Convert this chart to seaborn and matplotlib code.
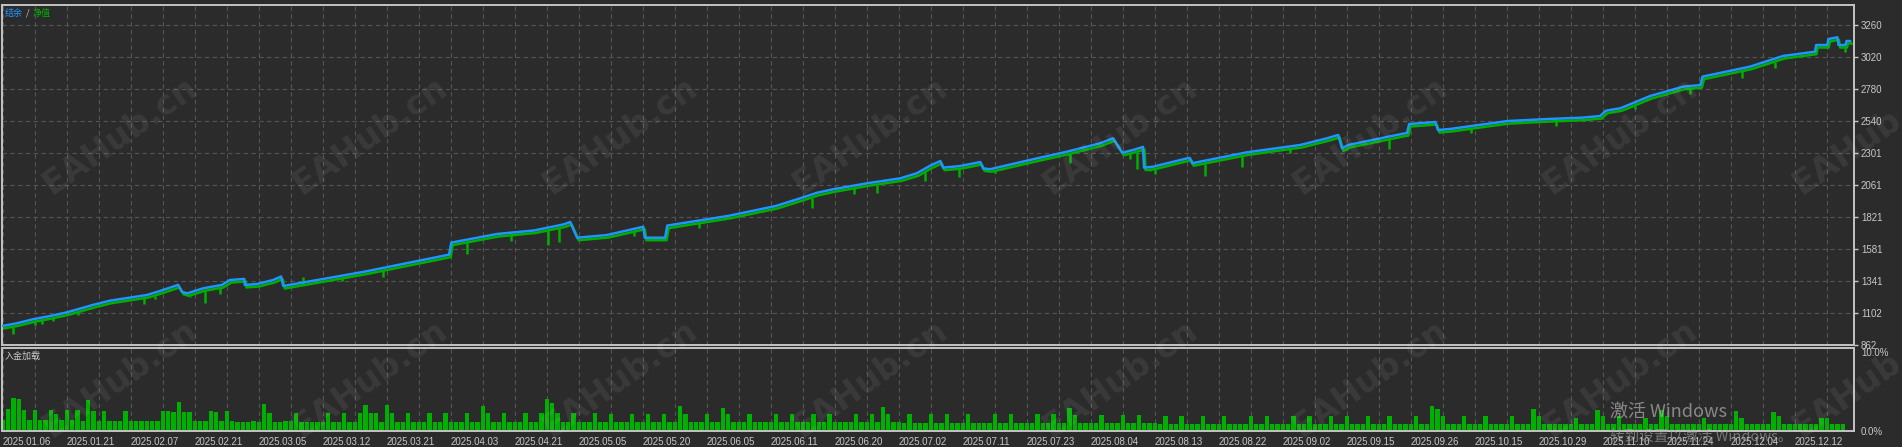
import numpy as np
import matplotlib
matplotlib.use("Agg")
import matplotlib.pyplot as plt
import matplotlib.transforms as mtransforms
import seaborn as sns

# balance curve: deal number / balance
bal_x = [0, 2.7, 5.7, 8.9, 12.1, 16.9, 20.1, 27.1, 29.5, 32.9, 33.6, 34.6, 37.6, 41.1,
         42.6, 45.3, 45.4, 47.7, 50.7, 52.2, 52.6, 67.8, 83.7, 84.1, 92.7, 99.6, 105.2,
         106.4, 107.7, 113.3, 120.1, 120.4, 124.2, 124.6, 136.0, 145.0, 149.5, 152.7,
         155.7, 162.1, 168.3, 171.4, 173.9, 175.8, 176.3, 179.5, 183.3, 183.8, 185.1,
         193.2, 199.6, 205.8, 208.2, 208.9, 209.9, 211.9, 213.8, 214.0, 215.7, 222.1,
         222.6, 223.0, 224.5, 233.3, 243.3, 248.3, 250.4, 251.1, 252.3, 262.0, 263.3,
         263.7, 268.6, 269.1, 271.4, 282.1, 290.0, 296.3, 299.5, 300.6, 303.3, 308.9,
         315.1, 318.3, 318.7, 327.6, 333.8, 339.8, 340.0, 342.1, 342.3, 344.0, 344.2,
         345.5, 345.7, 346.4]
bal_y = [1005, 1025, 1055, 1079, 1107, 1162, 1194, 1237, 1267, 1312, 1261, 1249, 1287, 1312,
         1349, 1357, 1312, 1319, 1349, 1375, 1304, 1411, 1539, 1629, 1694, 1720, 1766,
         1784, 1666, 1686, 1748, 1666, 1666, 1757, 1829, 1904, 1961, 2003,
         2029, 2074, 2111, 2149, 2206, 2241, 2191, 2203, 2233, 2186, 2179,
         2254, 2311, 2374, 2411, 2366, 2303, 2323, 2346, 2191, 2198, 2261,
         2263, 2224, 2236, 2306, 2361, 2411, 2436, 2336, 2361, 2441, 2451,
         2518, 2533, 2473, 2481, 2540, 2556, 2566, 2578, 2618, 2636, 2728,
         2798, 2810, 2873, 2948, 3028, 3060, 3110, 3110, 3155, 3168, 3110,
         3110, 3140, 3140]

# equity drawdown spikes: deal number / lowest equity
dip_x = [1.7, 5.7, 7.0, 9.2, 13.9, 26.3, 28.2, 34.8, 37.6, 40.4, 56.0, 63.3, 71.1, 86.7,
         95.0, 101.9, 104.1, 118.0, 130.2, 151.4, 159.4, 163.6, 172.6, 179.0, 185.7,
         199.8, 211.0, 212.3, 214.8, 215.7, 225.1, 232.0, 241.0, 259.6, 275.0, 291.0,
         305.7, 316.0, 325.8, 332.0, 345.1]
dip_y = [962, 1027, 1037, 1057, 1102, 1186, 1224, 1237, 1194, 1261, 1390, 1357, 1394, 1563,
         1660, 1629, 1656, 1700, 1757, 1904, 2011, 2018, 2111, 2140, 2168,
         2248, 2273, 2198, 2181, 2161, 2149, 2218, 2320, 2348, 2470, 2520,
         2648, 2762, 2885, 2960, 3074]

# deposit load per deal, %
load = [1.3, 2.7, 4.0, 3.9, 2.5, 1.3, 2.5, 1.3, 1.3, 2.5,
        2.0, 1.3, 2.5, 1.3, 2.5, 1.2, 3.7, 2.4, 1.2, 2.4,
        1.2, 1.2, 1.2, 2.4, 1.2, 1.2, 1.2, 1.2, 1.2, 1.2,
        2.4, 2.4, 2.3, 3.5, 2.3, 2.3, 1.2, 1.2, 1.2, 2.4,
        2.3, 1.2, 2.4, 1.2, 1.1, 1.1, 1.1, 1.2, 1.1, 3.3,
        2.2, 1.1, 1.1, 1.2, 1.2, 2.2, 1.1, 1.1, 1.1, 1.1,
        1.1, 2.2, 1.1, 1.1, 2.2, 1.1, 1.1, 2.2, 3.1, 2.2,
        2.2, 1.1, 3.1,
        2.2, 1.1, 1.1, 2.2, 1.1, 1.1, 1.1, 2.2, 1.1, 1.1, 2.2, 1.1,
        1.1, 1.1, 2.2, 1.1, 1.1, 3.0, 2.2, 1.1, 1.1, 2.2, 1.1, 1.1,
        1.1, 2.2, 1.1, 1.1, 2.2, 3.9, 3.4, 2.2, 1.1, 1.1, 2.2, 1.1,
        1.1, 1.1, 2.2, 1.1, 1.1, 2.1, 1.1, 1.1, 1.1, 2.1, 1.1, 1.1,
        2.1, 1.1, 1.1, 2.1, 1.1, 1.1, 3.0, 2.1, 1.1, 1.1, 1.1, 2.1,
        1.1, 1.1, 2.8, 2.1, 1.1, 1.1, 1.1, 2.1, 1.1, 1.1, 1.1, 1.1,
        2.1, 1.1, 1.1, 2.1, 1.1, 1.1, 1.1, 2.1, 1.1, 1.1, 2.1, 1.1,
        1.1, 1.1, 1.1, 2.1, 1.1, 1.1, 2.1, 1.1, 2.9, 2.0, 1.1, 1.1,
        1.0, 2.0, 1.0, 1.0, 1.0, 2.0, 1.0, 1.0, 2.0, 1.0, 1.0, 1.0,
        2.0, 1.0, 1.0, 1.0, 1.0, 2.0, 1.0, 1.0, 2.0, 1.0, 1.0, 1.0,
        1.0, 2.0, 1.0, 1.0, 2.0, 1.0, 1.0, 2.8, 1.9, 1.0, 1.0, 1.0,
        1.0, 1.9, 1.0, 1.0, 1.0, 1.9, 1.0, 1.0, 1.9, 1.0, 1.0, 1.0,
        0.9, 1.8, 0.9, 0.9, 1.8, 0.9, 0.9, 0.9, 1.8, 0.9, 0.9, 0.9,
        1.8, 0.9, 0.9, 0.9, 0.9, 1.8, 0.9, 0.9, 1.8, 0.9, 0.9, 0.9,
        0.9, 1.8, 0.9, 0.9, 1.8, 0.9, 0.9, 0.9, 1.8, 0.9, 0.9, 1.8,
        0.9, 0.9, 0.9, 1.8, 0.9, 0.9, 0.9, 1.8, 0.9, 0.9, 0.9, 0.9,
        1.8, 0.9, 0.9, 3.0, 2.6, 1.8, 0.9, 0.9, 0.9, 1.8, 0.9, 0.9,
        0.9, 1.8, 0.9, 0.9, 0.9, 0.9, 1.8, 0.9, 0.9, 0.9, 2.6, 1.8,
        0.9, 0.9, 0.9, 0.9, 0.9, 0.9, 1.6, 0.9, 0.9, 0.9, 2.5, 1.8,
        0.9, 0.9, 1.8, 0.9, 0.9, 0.9, 0.9, 1.6, 0.9, 0.9, 2.5, 1.8,
        0.9, 0.9, 0.9, 0.9, 0.9, 0.9, 1.6, 0.9, 0.9, 0.9, 0.9, 0.9,
        2.4, 1.6, 0.9, 0.9, 0.9, 0.9, 0.9, 2.3, 1.8, 0.9, 0.9, 0.9,
        0.9, 0.9, 0.9, 0.9, 1.6, 1.6, 0.9, 0.9, 0.9]

date_labels = ["2025.01.06", "2025.01.21", "2025.02.07", "2025.02.21", "2025.03.05",
               "2025.03.12", "2025.03.21", "2025.04.03", "2025.04.21", "2025.05.05",
               "2025.05.20", "2025.06.05", "2025.06.11", "2025.06.20", "2025.07.02",
               "2025.07.11", "2025.07.23", "2025.08.04", "2025.08.13", "2025.08.22",
               "2025.09.02", "2025.09.15", "2025.09.26", "2025.10.15", "2025.10.29",
               "2025.11.10", "2025.11.24", "2025.12.04", "2025.12.12"]
y_ticks = [862, 1102, 1341, 1581, 1821, 2061, 2301, 2540, 2780, 3020, 3260]

BG = "#2b2b2b"
FRAME = "#c4c4c4"
GRID = "#545454"
TXT = "#c8c8c8"
BLUE = "#1e96ff"
GREEN = "#00b000"

sns.set_theme(style="dark")
plt.rcParams["font.family"] = ["Liberation Sans", "Noto Sans CJK SC", "DejaVu Sans"]
plt.rcParams["axes.facecolor"] = BG

W, H = 1902, 447
fig = plt.figure(figsize=(W / 100, H / 100), dpi=100, facecolor=BG)


def box(l, t, r, b):
    return [l / W, 1 - b / H, (r - l) / W, (b - t) / H]


ax = fig.add_axes(box(2, 5, 1854, 345))
axl = fig.add_axes(box(2, 348, 1854, 431))

# equity (green), drawn a little under the balance line
off = mtransforms.ScaledTranslation(1.5 / 100, -2.5 / 100, fig.dpi_scale_trans)
ax.plot(bal_x, bal_y, color=GREEN, lw=1.8, transform=ax.transData + off, zorder=3)
tops = np.interp(dip_x, bal_x, bal_y)
ax.vlines(dip_x, dip_y, tops, color=GREEN, lw=1.8, transform=ax.transData + off, zorder=3)
sns.lineplot(x=bal_x, y=bal_y, ax=ax, color=BLUE, lw=1.8, sort=False, estimator=None, zorder=4)

# deposit load bars
deals = np.arange(len(load))
sns.barplot(x=deals, y=load, ax=axl, native_scale=True, color=GREEN, width=0.82,
            errorbar=None, linewidth=0, saturation=1)

xl = (-0.13, 347.1)
for a in (ax, axl):
    a.set_facecolor(BG)
    a.set_xlim(*xl)
    a.set_xticks(np.arange(0, 337, 12))
    a.set_xticks(np.arange(0, 347, 6), minor=True)
    a.grid(True, axis="x", which="both", color=GRID, lw=0.8, linestyle=(0, (4, 3)))
    for s in a.spines.values():
        s.set_color(FRAME)
        s.set_linewidth(1.4)
    a.set_xlabel("")
    a.set_ylabel("")
    a.tick_params(which="minor", length=0)

ax.set_ylim(862, 3410)
ax.yaxis.tick_right()
ax.set_yticks(y_ticks)
ax.set_yticklabels([str(v) for v in y_ticks])
ax.grid(True, axis="y", color=GRID, lw=0.8, linestyle=(0, (4, 3)))
ax.tick_params(axis="y", colors=FRAME, labelcolor=TXT, labelsize=7, length=3, width=1, pad=2)
ax.tick_params(axis="x", length=0, labelbottom=False)

axl.set_ylim(0, 10)
axl.yaxis.tick_right()
axl.set_yticks([0, 10])
axl.set_yticklabels(["0.0%", "10.0%"])
axl.get_yticklabels()[1].set_va("top")
axl.grid(False, axis="y")
axl.tick_params(axis="y", length=0, labelcolor=TXT, labelsize=7, pad=5)
axl.set_xticklabels(date_labels)
for t in axl.get_xticklabels():
    t.set_ha("left")
axl.tick_params(axis="x", which="major", colors=FRAME, labelcolor=TXT, labelsize=7,
                length=3, width=1, pad=1)

# panel captions
cjk = ["Noto Sans CJK SC", "DejaVu Sans"]
fig.text(5 / W, 1 - 13 / H, "结余", color=BLUE, fontsize=6.5, family=cjk, va="center")
fig.text(26 / W, 1 - 13 / H, "/", color=TXT, fontsize=6.5, family=cjk, va="center")
fig.text(33 / W, 1 - 13 / H, "净值", color=GREEN, fontsize=6.5, family=cjk, va="center")
fig.text(5 / W, 1 - 356 / H, "入金加载", color=TXT, fontsize=6.5, family=cjk, va="center")

# site watermarks
for row_y in (135, 378):
    for k in range(8):
        fig.text((120 + 250 * k) / W, 1 - row_y / H, "EAHub.cn", rotation=35,
                 fontsize=24, fontweight="bold", color="white", alpha=0.07,
                 ha="center", va="center", rotation_mode="anchor", family="DejaVu Sans")

# OS overlay text
fig.text(1610 / W, 1 - 412 / H, "激活 Windows", color="#a8a8a8", alpha=0.75,
         fontsize=13, family=cjk, va="center")
fig.text(1610 / W, 1 - 437 / H, "转到设置以激活 Windows。", color="#a8a8a8", alpha=0.6,
         fontsize=10.5, family=cjk, va="center")

fig.savefig("out.png", dpi=100, facecolor=BG)
